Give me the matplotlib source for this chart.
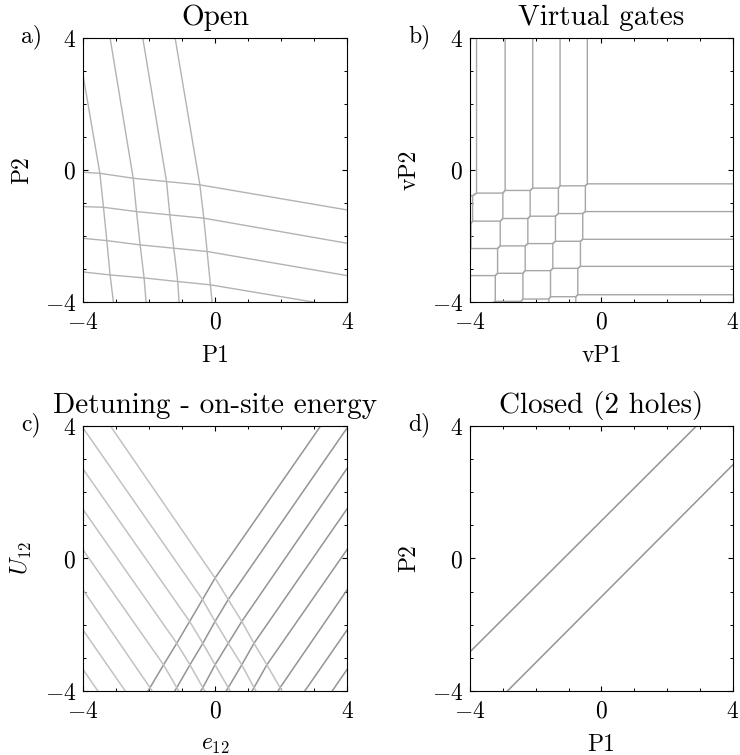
import matplotlib
matplotlib.use('Agg')
import matplotlib.pyplot as plt
from matplotlib.ticker import FixedLocator, MultipleLocator

plt.rcParams['font.family'] = 'serif'
plt.rcParams['font.serif'] = ['cmr10']
plt.rcParams['mathtext.fontset'] = 'cm'
plt.rcParams['axes.formatter.use_mathtext'] = True
plt.rcParams['font.size'] = 17

# a) Open -- near-vertical lines (top to bottom) and near-horizontal lines (left to right)
a_vert_p1 = [[-4.00, -3.49, -3.38, -3.28, -3.18, -3.08],
             [-3.18, -2.48, -2.38, -2.27, -2.15, -2.09],
             [-2.19, -1.47, -1.37, -1.25, -1.13, -1.09],
             [-1.21, -0.46, -0.34, -0.24, -0.14, -0.09]]
a_vert_p2 = [[2.88, -0.10, -1.13, -2.14, -3.18, -4.00],
             [4.00, -0.25, -1.26, -2.27, -3.27, -4.00],
             [4.00, -0.35, -1.36, -2.37, -3.38, -4.00],
             [4.00, -0.45, -1.46, -2.47, -3.48, -4.00]]
a_hor_p1 = [[-4.00, -3.49, -2.48, -1.47, -0.46, 4.00],
            [-4.00, -3.38, -2.38, -1.37, -0.34, 4.00],
            [-4.00, -3.28, -2.27, -1.25, -0.24, 4.00],
            [-4.00, -3.18, -2.15, -1.13, -0.14, 2.97]]
a_hor_p2 = [[-0.07, -0.10, -0.25, -0.35, -0.45, -1.21],
            [-1.11, -1.13, -1.26, -1.36, -1.46, -2.22],
            [-2.07, -2.14, -2.27, -2.37, -2.47, -3.20],
            [-3.09, -3.18, -3.27, -3.38, -3.48, -4.00]]

# b) Virtual gates -- vP1 of each vertical line per row (top row first),
#    vP2 of each horizontal line per column (left column first)
b_vert_vp1 = [[-3.80, -3.92, -3.97, -4.02, -4.06, -4.10],
              [-2.93, -3.00, -3.08, -3.16, -3.23, -3.28],
              [-2.09, -2.17, -2.24, -2.32, -2.39, -2.44],
              [-1.26, -1.31, -1.40, -1.48, -1.55, -1.60],
              [-0.43, -0.49, -0.57, -0.64, -0.72, -0.78]]
b_hor_vp2 = [[-0.78, -0.70, -0.62, -0.55, -0.48, -0.42],
             [-1.62, -1.55, -1.47, -1.40, -1.32, -1.26],
             [-2.46, -2.38, -2.30, -2.23, -2.16, -2.10],
             [-3.28, -3.20, -3.13, -3.05, -2.98, -2.92],
             [-4.14, -4.06, -3.98, -3.91, -3.84, -3.78]]

# c) Detuning - on-site energy -- crossing lattice rows
c_row_u = [-0.59, -1.24, -1.90, -2.56, -3.21, -3.90]
c_row_e = [[0.00],
           [-0.38, 0.40],
           [-0.77, 0.00, 0.81],
           [-1.16, -0.37, 0.40, 1.18],
           [-1.56, -0.76, 0.00, 0.81, 1.57],
           [-1.97, -1.16, -0.37, 0.40, 1.18, 1.97]]
c_pos_top_e = [3.20, 4.00, 4.00, 4.00, 4.00, 4.00]
c_pos_top_u = [4.00, 3.94, 2.72, 1.50, 0.27, -0.95]
c_neg_top_e = [-3.17, -4.00, -4.00, -4.00, -4.00, -4.00]
c_neg_top_u = [4.00, 3.94, 2.70, 1.48, 0.26, -0.95]
c_pos_bot_e = [-2.03, -1.22, -0.43, 0.34, 1.12, 1.91]
c_neg_bot_e = [2.03, 1.24, 0.46, -0.31, -1.10, -1.91]
c_pos_outer_e = [2.72, 3.55]
c_pos_outer_u = [-2.16, -3.35]
c_neg_outer_e = [-2.72, -3.55]
c_neg_outer_u = [-2.16, -3.35]

# d) Closed (2 holes)
d_p1 = [[-4.00, 2.89], [-2.86, 4.00]]
d_p2 = [[-2.82, 4.00], [-4.00, 2.83]]

fig = plt.figure(figsize=(7.4, 7.55), dpi=100)
ax_a = fig.add_axes([0.1122, 0.6, 0.3568, 0.3497])
ax_b = fig.add_axes([0.6351, 0.6, 0.3554, 0.3497])
ax_c = fig.add_axes([0.1122, 0.0848, 0.3568, 0.351])
ax_d = fig.add_axes([0.6351, 0.0848, 0.3554, 0.351])

# a
for xs, ys in zip(a_vert_p1, a_vert_p2):
    ax_a.plot(xs, ys, color='0.7', lw=1.0)
for xs, ys in zip(a_hor_p1, a_hor_p2):
    ax_a.plot(xs, ys, color='0.7', lw=1.0)

# b
for i, vx in enumerate(b_vert_vp1):
    xs, ys = [vx[0]], [4.0]
    for r in range(5):
        xs += [vx[r], vx[r + 1]]
        ys += [b_hor_vp2[r][i + 1], b_hor_vp2[r][i]]
    xs.append(vx[5])
    ys.append(-4.0)
    ax_b.plot(xs, ys, color='0.65', lw=1.0)
for r, hy in enumerate(b_hor_vp2):
    xs, ys = [-4.0], [hy[0]]
    for i in range(5):
        xs += [b_vert_vp1[i][r + 1], b_vert_vp1[i][r]]
        ys += [hy[i], hy[i + 1]]
    xs.append(4.0)
    ys.append(hy[5])
    ax_b.plot(xs, ys, color='0.65', lw=1.0)

# c
for j in range(6):
    es = [c_pos_top_e[j]] + [c_row_e[k][j] for k in range(j, 6)] + [c_pos_bot_e[j]]
    us = [c_pos_top_u[j]] + [c_row_u[k] for k in range(j, 6)] + [-4.0]
    ax_c.plot(es, us, color='0.58', lw=1.1)
for i in range(6):
    es = [c_neg_top_e[i]] + [c_row_e[k][k - i] for k in range(i, 6)] + [c_neg_bot_e[i]]
    us = [c_neg_top_u[i]] + [c_row_u[k] for k in range(i, 6)] + [-4.0]
    ax_c.plot(es, us, color='0.76', lw=1.1)
for e, u in zip(c_pos_outer_e, c_pos_outer_u):
    ax_c.plot([e, 4.0], [-4.0, u], color='0.58', lw=1.1)
for e, u in zip(c_neg_outer_e, c_neg_outer_u):
    ax_c.plot([e, -4.0], [-4.0, u], color='0.76', lw=1.1)

# d
for xs, ys in zip(d_p1, d_p2):
    ax_d.plot(xs, ys, color='0.58', lw=1.1)

panels = [
    (ax_a, 'Open', 'a)', 'P1', 'P2'),
    (ax_b, 'Virtual gates', 'b)', 'vP1', 'vP2'),
    (ax_c, 'Detuning - on-site energy', 'c)', '$e_{12}$', '$U_{12}$'),
    (ax_d, 'Closed (2 holes)', 'd)', 'P1', 'P2'),
]
for ax, title, letter, xl, yl in panels:
    ax.set_xlim(-4, 4)
    ax.set_ylim(-4, 4)
    ax.xaxis.set_major_locator(FixedLocator([-4, 0, 4]))
    ax.yaxis.set_major_locator(FixedLocator([-4, 0, 4]))
    ax.xaxis.set_minor_locator(MultipleLocator(1))
    ax.yaxis.set_minor_locator(MultipleLocator(1))
    ax.tick_params(which='both', direction='in', top=True, right=True, labelsize=17)
    ax.tick_params(which='major', length=3.5, width=0.8)
    ax.tick_params(which='minor', length=2.2, width=0.7)
    ax.tick_params(axis='x', pad=7)
    ax.tick_params(axis='y', pad=5)
    ax.set_title(title, fontsize=21, pad=9)
    ax.set_xlabel(xl, fontsize=17, labelpad=8)
    ax.set_ylabel(yl, fontsize=17, labelpad=8)
    ax.text(-0.235, 1.005, letter, transform=ax.transAxes, fontsize=17,
            ha='left', va='center')

fig.savefig('out.png', dpi=100)
